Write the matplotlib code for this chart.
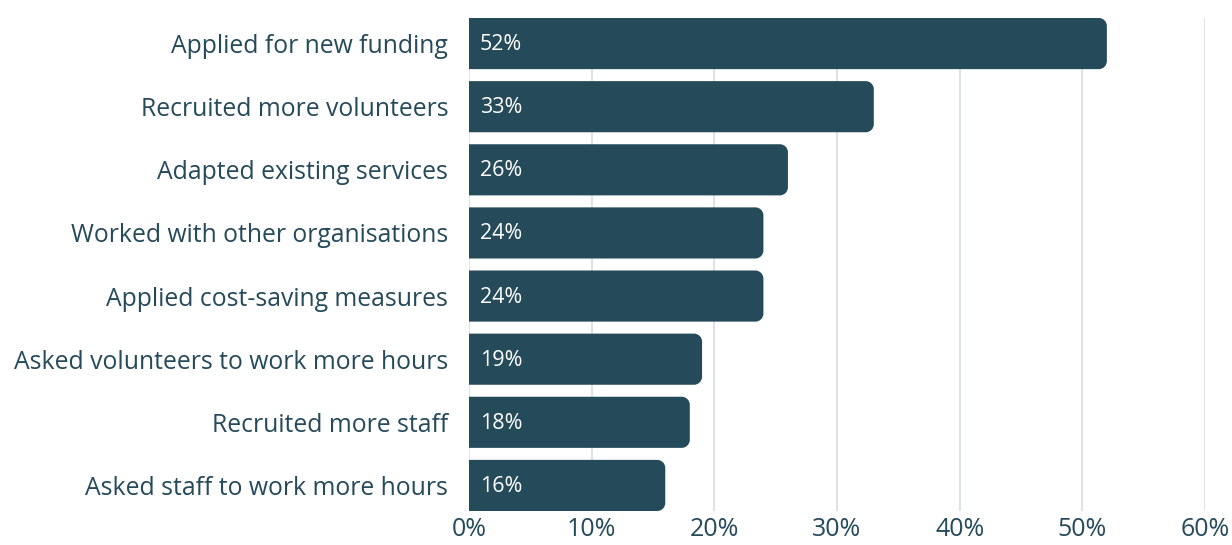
import numpy as np
import matplotlib.pyplot as plt
import matplotlib.transforms as mtransforms
from matplotlib.path import Path
from matplotlib.patches import PathPatch

# data
actions = ['Applied for new funding', 'Recruited more volunteers', 'Adapted existing services',
           'Worked with other organisations', 'Applied cost-saving measures',
           'Asked volunteers to work more hours', 'Recruited more staff',
           'Asked staff to work more hours']
shares = [52, 33, 26, 24, 24, 19, 18, 16]
x_ticks = [0, 10, 20, 30, 40, 50, 60]

bar_col = '#254a5a'
txt_col = '#254a5a'
grid_col = '#d6dee2'

plt.rcParams['font.family'] = ['Open Sans', 'DejaVu Sans']

W, H = 1232, 545
fig = plt.figure(figsize=(W / 100, H / 100), dpi=100)
ax = fig.add_axes([469 / W, 1 - 511 / H, (1205 - 469) / W, (511 - 18) / H])

bar_h = 0.81
ypos = np.arange(len(actions))
ax.set_xlim(0, 60)
ax.set_ylim(len(actions) - 1 + bar_h / 2, -bar_h / 2)

# pixels per data unit, so the corner radius is the same both ways
px_x = (1205 - 469) / 60
px_y = (511 - 18) / (len(actions) - 1 + bar_h)
r_px = 8
rx, ry = r_px / px_x, r_px / px_y
k = 0.5523


def right_rounded_bar(y, v):
    y0, y1 = y - bar_h / 2, y + bar_h / 2
    verts = [(0, y0), (v - rx, y0),
             (v - rx + k * rx, y0), (v, y0 + ry - k * ry), (v, y0 + ry),
             (v, y1 - ry),
             (v, y1 - ry + k * ry), (v - rx + k * rx, y1), (v - rx, y1),
             (0, y1), (0, y0)]
    codes = [Path.MOVETO, Path.LINETO,
             Path.CURVE4, Path.CURVE4, Path.CURVE4,
             Path.LINETO,
             Path.CURVE4, Path.CURVE4, Path.CURVE4,
             Path.LINETO, Path.CLOSEPOLY]
    return PathPatch(Path(verts, codes), fc=bar_col, ec='none', zorder=3)


# nudge for value labels (1px down)
down = ax.transData + mtransforms.ScaledTranslation(0, -1 / 100, fig.dpi_scale_trans)
for y, v in zip(ypos, shares):
    ax.add_patch(right_rounded_bar(y, v))
    ax.text(0.9, y, f'{v}%', color='white', fontsize=15.5, va='center', ha='left',
            zorder=4, transform=down)

ax.set_xticks(x_ticks)
ax.set_xticklabels([f'{t}%' for t in x_ticks], fontsize=18, color=txt_col)
ax.set_yticks(ypos)
ax.set_yticklabels(actions, fontsize=17.8, color=txt_col)
up = mtransforms.ScaledTranslation(0, 2 / 100, fig.dpi_scale_trans)
for lab in ax.get_yticklabels():
    lab.set_transform(lab.get_transform() + up)
ax.tick_params(axis='both', length=0)
ax.tick_params(axis='y', pad=15)
ax.tick_params(axis='x', pad=4)
for t in x_ticks:
    ax.axvline(t, color=grid_col, lw=1.2, zorder=1)
for s in ax.spines.values():
    s.set_visible(False)

fig.savefig('out.png', dpi=100)
